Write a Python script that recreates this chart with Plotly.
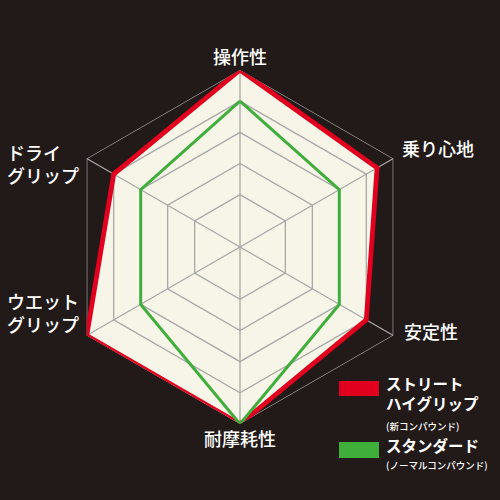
# Radar chart: street high-grip vs standard compound

import plotly.graph_objects as go

categories = ['操作性', '乗り心地', '安定性', '耐摩耗性', 'ウエット<br>グリップ', 'ドライ<br>グリップ']
street_values = [5, 4.4, 4.0, 5, 5, 4.0]
standard_values = [4, 3, 3, 5, 3, 3]
ring_values = [1, 2, 3, 4, 5]
series_names = ['ストリート<br>ハイグリップ', 'スタンダード']
series_notes = ['(新コンパウンド)', '(ノーマルコンパウンド)']

BG = '#221a18'
CREAM = '#f6f5e8'
RED = '#e1001e'
GREEN = '#3fae3a'
GRID = '#a8a8a8'
R_MIN = -0.68

fig = go.Figure()


def closed(seq):
    return list(seq) + [seq[0]]


# cream area of the high-grip series
fig.add_trace(go.Scatterpolar(
    r=closed(street_values), theta=closed(categories),
    mode='lines', fill='toself', fillcolor=CREAM,
    line=dict(width=0, color=CREAM), hoverinfo='skip', showlegend=False
))

# hexagon grid drawn on top of the fill
for v in ring_values:
    fig.add_trace(go.Scatterpolar(
        r=[v] * (len(categories) + 1), theta=closed(categories),
        mode='lines', line=dict(color=GRID, width=1.3),
        hoverinfo='skip', showlegend=False
    ))
for c in categories:
    fig.add_trace(go.Scatterpolar(
        r=[R_MIN, ring_values[-1]], theta=[c, c],
        mode='lines', line=dict(color=GRID, width=1.3),
        hoverinfo='skip', showlegend=False
    ))

fig.add_trace(go.Scatterpolar(
    r=closed(street_values), theta=closed(categories),
    mode='lines', line=dict(color=RED, width=4.8),
    name='ストリート ハイグリップ', showlegend=False
))
fig.add_trace(go.Scatterpolar(
    r=closed(standard_values), theta=closed(categories),
    mode='lines', line=dict(color=GREEN, width=3),
    name='スタンダード', showlegend=False
))

fig.update_layout(
    width=500, height=500,
    margin=dict(l=0, r=0, t=0, b=0),
    paper_bgcolor=BG, plot_bgcolor=BG,
    font=dict(family='Noto Sans CJK JP', color='white'),
    polar=dict(
        domain=dict(x=[0.126, 0.834], y=[0.152, 0.86]),
        bgcolor=BG,
        gridshape='linear',
        radialaxis=dict(range=[R_MIN, 5], showgrid=False, showline=False,
                        showticklabels=False, ticks=''),
        angularaxis=dict(direction='clockwise', rotation=90, showgrid=False,
                         showline=False, showticklabels=False, ticks=''),
    ),
)

# axis labels
label_pos = [
    (240, 56, 'center'),
    (400, 148, 'left'),
    (402, 331, 'left'),
    (240, 438, 'center'),
    (5, 312, 'left'),
    (5, 163, 'left'),
]
for text, (x, y, align) in zip(categories, label_pos):
    fig.add_annotation(
        x=x / 500, y=1 - y / 500, xref='paper', yref='paper',
        text=text, showarrow=False, align=align,
        xanchor='center' if align == 'center' else 'left', yanchor='middle',
        font=dict(size=18, color='white', family='Noto Sans CJK JP', weight=500)
    )

# legend
legend_colors = [RED, GREEN]
legend_rows = [(381, 396, 380, 417), (442, 458, 442, 456)]
for name, note, color, (y0, y1, ty, ny) in zip(series_names, series_notes, legend_colors, legend_rows):
    fig.add_shape(type='rect', xref='paper', yref='paper',
                  x0=339 / 500, x1=379 / 500, y0=1 - y1 / 500, y1=1 - y0 / 500,
                  fillcolor=color, line=dict(width=0))
    fig.add_annotation(
        x=384 / 500, y=1 - (ty - 10) / 500, xref='paper', yref='paper',
        text='<b>' + name + '</b>', showarrow=False, align='left',
        xanchor='left', yanchor='top',
        font=dict(size=15.5, color='white', family='Noto Sans CJK JP')
    )
    fig.add_annotation(
        x=384 / 500, y=1 - ny / 500, xref='paper', yref='paper',
        text=note, showarrow=False, align='left',
        xanchor='left', yanchor='top',
        font=dict(size=9.5, color='white', family='Noto Sans CJK JP', weight=500)
    )

fig.write_html(
    'out.html',
    config={'displayModeBar': False},
    post_script="document.body.style.margin='0';document.body.style.background='" + BG + "';"
)
